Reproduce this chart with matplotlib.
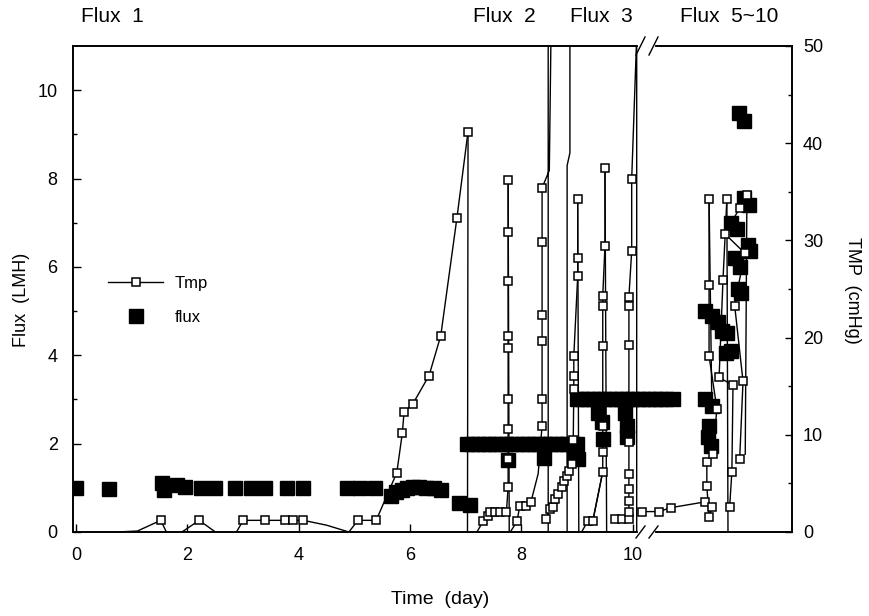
import numpy as np
import matplotlib
matplotlib.use("Agg")
import matplotlib.pyplot as plt

plt.rcParams["font.family"] = ["Liberation Sans", "DejaVu Sans"]

nan = np.nan

# ── Flux (LMH), big filled squares ──────────────────────────────────────────
flux_day = [
    0.0, 0.59, 1.55, 1.58, 1.82, 1.95, 2.24, 2.5, 2.86, 3.14, 3.39, 3.78, 4.07,
    4.87, 5.1, 5.37, 5.66, 5.75, 5.85, 5.95, 6.05, 6.15, 6.28, 6.42, 6.56,
    6.88, 7.07,
    # Flux 2 plateau
    7.02, 7.12, 7.22, 7.32, 7.42, 7.52, 7.62, 7.72, 7.82, 7.92, 8.02, 8.12,
    8.22, 8.32, 8.42, 8.52, 8.62, 8.72, 8.82, 8.92, 9.0,
    7.76, 8.4, 8.95, 9.02,
    # Flux 3 plateau
    8.99, 9.09, 9.19, 9.29, 9.39, 9.49, 9.59, 9.69, 9.79, 9.89, 9.99, 10.09,
    10.19, 10.29, 10.39, 10.49, 10.6, 10.72,
    9.37, 9.45, 9.47, 9.86, 9.9, 9.9,
    # Flux 5~10
    11.9, 12.0, 12.0, 12.08, 11.76, 11.87, 12.07, 12.1, 11.83, 11.92, 11.89,
    11.94, 11.3, 11.42, 11.53, 11.6, 11.69, 11.67, 11.76, 11.3, 11.42, 11.37,
    11.35, 11.41,
]
flux_val = [
    1.0, 0.98, 1.12, 0.95, 1.07, 1.02, 1.0, 1.0, 1.0, 1.0, 1.0, 1.0, 1.0,
    1.0, 1.0, 1.0, 0.82, 0.9, 0.95, 1.0, 1.02, 1.02, 1.0, 1.0, 0.95,
    0.65, 0.62,
    2.0, 2.0, 2.0, 2.0, 2.0, 2.0, 2.0, 2.0, 2.0, 2.0, 2.0, 2.0,
    2.0, 2.0, 2.0, 2.0, 2.0, 2.0, 2.0, 2.0, 2.0,
    1.63, 1.67, 1.7, 1.65,
    3.0, 3.0, 3.0, 3.0, 3.0, 3.0, 3.0, 3.0, 3.0, 3.0, 3.0, 3.0,
    3.0, 3.0, 3.0, 3.0, 3.0, 3.0,
    2.7, 2.5, 2.1, 2.7, 2.4, 2.15,
    9.48, 9.3, 7.55, 7.4, 7.0, 6.85, 6.5, 6.35, 6.2, 6.0, 5.5,
    5.4, 5.0, 4.9, 4.75, 4.55, 4.5, 4.05, 4.1, 3.0, 2.85, 2.4,
    2.15, 1.95,
]

# ── TMP (cmHg), measured points (NaN separates runs) ────────────────────────
tmp_day = [
    1.52, nan,
    2.21, nan,
    3.0, 3.39, 3.75, 3.9, 4.08, nan,
    5.06, 5.39, 5.76, 5.86, 5.89, 6.05, 6.34, 6.55, 6.84, 7.04, nan,
    7.31, 7.4, 7.43, 7.52, 7.61, 7.73, 7.76, 7.76, 7.76, 7.76, 7.76, 7.76,
    7.76, 7.76, 7.76, nan,
    7.92, 7.97, 8.08, 8.17, nan,
    8.37, 8.37, 8.37, 8.37, 8.37, 8.37, nan,
    8.44, 8.51, 8.57, 8.6, 8.65, 8.73, 8.76, 8.82, 8.85, 8.91, 8.93, 8.94,
    8.94, 8.94, 9.01, 9.01, 9.01, nan,
    9.19, 9.28, 9.46, 9.46, 9.46, 9.46, 9.46, 9.46, 9.5, 9.5, nan,
    9.68, 9.81, 9.93, 9.93, 9.93, 9.93, 9.93, 9.93, 9.93, 9.93, 9.93, 9.98,
    9.98, nan,
    10.16, 10.47, 10.68, 11.3, 11.42, 11.37, 11.33, 11.33, 11.44, 11.51,
    11.37, 11.37, 11.37, nan,
    11.74, 11.78, 11.8, 11.55, 11.62, 11.69, nan,
    11.92, 11.98, 11.83, 12.01, 11.65, 11.92, 12.05,
]
tmp_val = [
    1.2, nan,
    1.2, nan,
    1.2, 1.2, 1.2, 1.2, 1.2, nan,
    1.2, 1.2, 6.1, 10.2, 12.3, 13.2, 16.1, 20.2, 32.3, 41.2, nan,
    1.1, 1.6, 2.1, 2.1, 2.1, 2.1, 4.6, 7.5, 10.6, 13.7, 18.9, 20.2,
    25.8, 30.9, 36.2, nan,
    1.1, 2.7, 2.7, 3.1, nan,
    10.9, 13.7, 19.7, 22.3, 29.8, 35.4, nan,
    1.3, 2.4, 2.6, 3.4, 3.9, 4.6, 5.2, 5.8, 6.3, 7.0, 9.5, 14.7,
    16.1, 18.1, 26.3, 28.2, 34.3, nan,
    1.1, 1.1, 6.2, 8.2, 10.9, 19.1, 23.3, 24.3, 29.4, 37.4, nan,
    1.3, 1.3, 1.3, 2.1, 3.2, 4.4, 6.0, 9.3, 19.2, 23.3, 24.2, 28.9,
    36.3, nan,
    2.1, 2.1, 2.5, 3.1, 2.6, 1.5, 4.7, 7.2, 8.0, 12.7,
    18.1, 25.4, 34.3, nan,
    2.6, 6.2, 15.1, 15.9, 25.9, 34.3, nan,
    7.5, 15.5, 23.3, 28.7, 30.7, 33.3, 34.7,
]

# ── TMP connecting strokes without markers (rises / drops) ──────────────────
link_day = [
    0.72, 1.1, 1.52, nan, 1.52, 1.62, nan, 1.9, 2.21, 2.5, nan, 2.88, 3.0, nan,
    4.08, 4.5, 4.9, 5.06, nan, 7.04, 7.03, nan, 7.2, 7.31, nan,
    7.76, 7.78, nan, 7.8, 7.92, nan, 8.17, 8.3, 8.37, nan,
    8.37, 8.5, 8.53, nan, 8.48, 8.48, nan, 8.82, 8.82, 8.87, 8.87, nan,
    9.01, 9.03, nan, 9.08, 9.19, nan, 9.28, 9.46, nan, 9.5, 9.53, nan,
    9.98, 10.07, 10.07, nan, 11.37, 11.42, nan, 11.69, 11.71, nan,
    12.05, 12.02,
]
link_val = [
    0.0, 0.1, 1.2, nan, 1.2, 0.0, nan, 0.0, 1.2, 0.0, nan, 0.0, 1.2, nan,
    1.2, 0.7, 0.0, 1.2, nan, 41.2, 0.0, nan, 0.0, 1.1, nan,
    36.2, 0.0, nan, 0.0, 1.1, nan, 3.1, 6.0, 10.9, nan,
    35.4, 37.2, 51.0, nan, 51.0, 0.0, nan, 0.0, 37.7, 39.0, 51.0, nan,
    34.3, 0.0, nan, 0.0, 1.1, nan, 1.1, 6.2, nan, 37.4, 0.0, nan,
    36.3, 51.0, 0.0, nan, 34.3, 13.0, nan, 34.3, 0.0, nan,
    34.7, 8.0,
]

x_ticks = [0, 2, 4, 6, 8, 10]
section_labels = ["Flux  1", "Flux  2", "Flux  3", "Flux  5~10"]

# ── Figure ──────────────────────────────────────────────────────────────────
W, H = 869, 616
fig = plt.figure(figsize=(W / 100, H / 100), dpi=100)
L, R, T, B = 73, 792, 46, 532          # axes box in pixels
ax = fig.add_axes([L / W, 1 - B / H, (R - L) / W, (B - T) / H])
ax2 = ax.twinx()

fh, = ax.plot(flux_day, flux_val, linestyle="none", marker="s",
              markersize=10, color="black", label="flux", zorder=3)

ax2.plot(link_day, link_val, color="black", linewidth=1.0, zorder=2)
th, = ax2.plot(tmp_day, tmp_val, color="black", linewidth=1.0, marker="s",
               markersize=5.2, markerfacecolor="white", markeredgecolor="black",
               markeredgewidth=1.1, label="Tmp", zorder=3)

ax.set_xlim(-0.057, 12.86)
ax.set_ylim(0, 11)
ax2.set_ylim(0, 50)

ax.set_xticks(x_ticks)
ax.set_yticks(range(0, 11, 2))
ax.set_yticks(range(1, 11, 2), minor=True)
ax2.set_yticks(range(0, 51, 10))
ax2.set_yticks(range(5, 50, 10), minor=True)

for a in (ax, ax2):
    for s in a.spines.values():
        s.set_linewidth(1.2)
ax.tick_params(axis="both", which="major", direction="in", length=6,
               width=1.0, labelsize=13)
ax.tick_params(axis="y", which="minor", direction="in", length=3, width=1.0)
ax.tick_params(axis="x", pad=11)
ax.tick_params(axis="y", pad=11)
ax2.tick_params(axis="y", which="major", direction="in", length=5,
                width=1.0, labelsize=13, pad=8)
ax2.tick_params(axis="y", which="minor", direction="in", length=3, width=1.0)

# axis break marks (after day 10)
pw, ph = 1 / (R - L), 1 / (B - T)
g0, g1 = (640 - L) * pw, (653 - L) * pw
for yb, hh in ((1.0, 9), (0.0, 6)):
    ax2.plot([g0, g1], [yb, yb], transform=ax2.transAxes, color="white",
             linewidth=3, clip_on=False, zorder=10)
    for xm in (g0, g1):
        ax2.plot([xm - 4 * pw, xm + 5 * pw], [yb - hh * ph, yb + hh * ph],
                 transform=ax2.transAxes, color="black", linewidth=1.0,
                 clip_on=False, zorder=11)

fig.text(22 / W, 1 - 300 / H, "Flux  (LMH)", rotation=90, fontsize=13,
         ha="center", va="center")
fig.text(853 / W, 1 - 290 / H, "TMP  (cmHg)", rotation=270, fontsize=13,
         ha="center", va="center")
fig.text(440 / W, 1 - 599 / H, "Time  (day)", fontsize=14,
         ha="center", va="center")

for lab, xp in zip(section_labels, [81, 473, 570, 680]):
    fig.text(xp / W, 1 - 17 / H, lab, fontsize=15, ha="left", va="center")

ax2.legend(handles=[th, fh], loc="upper left",
           bbox_to_anchor=((108 - L) * pw, (B - 276) * ph),
           frameon=False, fontsize=12, handlelength=3.3, handletextpad=0.7,
           labelspacing=1.15, borderpad=0, borderaxespad=0, numpoints=1)

fig.savefig("out.png", dpi=100)
